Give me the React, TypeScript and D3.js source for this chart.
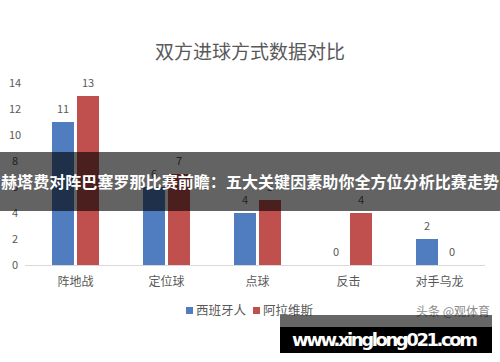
import React, { useEffect, useRef } from "react";
import * as d3 from "d3";

const categories = ["阵地战", "定位球", "点球", "反击", "对手乌龙"];
const seriesNames = ["西班牙人", "阿拉维斯"];
const espanyol = [11, 6, 4, 0, 2];
const alaves = [13, 7, 5, 4, 0];
const yTicks = [0, 2, 4, 6, 8, 10, 12, 14];
const colors = ["#4f7dbf", "#c0504d"];

const chartTitle = "双方进球方式数据对比";
const bannerText = "赫塔费对阵巴塞罗那比赛前瞻：五大关键因素助你全方位分析比赛走势";
const siteText = "www.xinglong021.com";
const watermark = "头条 @观体育";

const FONT = "'Microsoft YaHei', 'Noto Sans CJK SC', sans-serif";

export default function App() {
    const ref = useRef<SVGSVGElement>(null);

    useEffect(() => {
        const svg = d3.select(ref.current);
        svg.selectAll("*").remove();

        const width = 500, height = 362;
        const plot = {left: 30, right: 485, top: 83, bottom: 265};

        svg.append("rect").attr("width", width).attr("height", height).attr("fill", "#fff");

        // title
        svg.append("text")
            .attr("x", 250).attr("y", 59)
            .attr("text-anchor", "middle")
            .attr("font-family", FONT)
            .attr("font-size", 19)
            .attr("fill", "#595959")
            .text(chartTitle);

        const x = d3.scaleBand<string>()
            .domain(categories)
            .range([plot.left, plot.right]);
        const x1 = d3.scaleBand<number>()
            .domain([0, 1])
            .range([0, 47])
            .paddingInner(0.12);
        const y = d3.scaleLinear().domain([0, 14]).range([plot.bottom, plot.top]);

        // y labels
        svg.append("g")
            .selectAll("text")
            .data(yTicks)
            .join("text")
            .attr("x", 15)
            .attr("y", d => y(d) + 4)
            .attr("text-anchor", "middle")
            .attr("font-family", FONT)
            .attr("font-size", 11)
            .attr("fill", "#595959")
            .text(d => d);

        // baseline
        svg.append("line")
            .attr("x1", plot.left - 5).attr("x2", plot.right)
            .attr("y1", plot.bottom + 0.5).attr("y2", plot.bottom + 0.5)
            .attr("stroke", "#d9d9d9");

        const series = [espanyol, alaves];
        series.forEach((vals, si) => {
            const g = svg.append("g");
            const bx = (c: string) => x(c)! + x.bandwidth() / 2 - 23.5 + x1(si)!;
            g.selectAll("rect")
                .data(categories)
                .join("rect")
                .attr("x", c => bx(c))
                .attr("y", (c, i) => y(vals[i]))
                .attr("width", x1.bandwidth())
                .attr("height", (c, i) => plot.bottom - y(vals[i]))
                .attr("fill", colors[si]);
            g.selectAll("text")
                .data(categories)
                .join("text")
                .attr("x", c => bx(c) + x1.bandwidth() / 2)
                .attr("y", (c, i) => y(vals[i]) - 9)
                .attr("text-anchor", "middle")
                .attr("font-family", FONT)
                .attr("font-size", 11)
                .attr("fill", "#595959")
                .text((c, i) => vals[i]);
        });

        // category labels
        svg.append("g")
            .selectAll("text")
            .data(categories)
            .join("text")
            .attr("x", c => x(c)! + x.bandwidth() / 2)
            .attr("y", 286)
            .attr("text-anchor", "middle")
            .attr("font-family", FONT)
            .attr("font-size", 12)
            .attr("fill", "#595959")
            .text(c => c);

        // legend
        const legendX = [186, 253];
        seriesNames.forEach((name, i) => {
            svg.append("rect")
                .attr("x", legendX[i]).attr("y", 307)
                .attr("width", 7).attr("height", 7)
                .attr("fill", colors[i]);
            svg.append("text")
                .attr("x", legendX[i] + 10).attr("y", 315)
                .attr("font-family", FONT)
                .attr("font-size", 12.5)
                .attr("fill", "#595959")
                .text(name);
        });

        // watermark
        svg.append("text")
            .attr("x", 490).attr("y", 316)
            .attr("text-anchor", "end")
            .attr("font-family", FONT)
            .attr("font-size", 12)
            .attr("fill", "#8c8c8c")
            .text(watermark);

        // overlay banner
        svg.append("rect")
            .attr("x", 0).attr("y", 152)
            .attr("width", width).attr("height", 59)
            .attr("fill", "#000").attr("fill-opacity", 0.61);
        svg.append("text")
            .attr("x", 250).attr("y", 188)
            .attr("text-anchor", "middle")
            .attr("font-family", FONT)
            .attr("font-weight", "bold")
            .attr("font-size", 16)
            .attr("textLength", 498)
            .attr("fill", "#fff")
            .text(bannerText);

        // site box
        svg.append("rect")
            .attr("x", 280).attr("y", 315)
            .attr("width", 212).attr("height", 12)
            .attr("fill", "#000").attr("fill-opacity", 0.6);
        svg.append("rect")
            .attr("x", 280).attr("y", 327)
            .attr("width", 212).attr("height", 26)
            .attr("fill", "#000");
        svg.append("text")
            .attr("x", 385).attr("y", 346)
            .attr("text-anchor", "middle")
            .attr("font-family", "'DejaVu Sans', sans-serif")
            .attr("font-weight", "bold")
            .attr("font-size", 18)
            .attr("textLength", 186)
            .attr("fill", "#fff")
            .text(siteText);
    }, []);

    return <svg ref={ref} width={500} height={362} style={{display: "block", position: "absolute", left: 0, top: 0}} />;
}
